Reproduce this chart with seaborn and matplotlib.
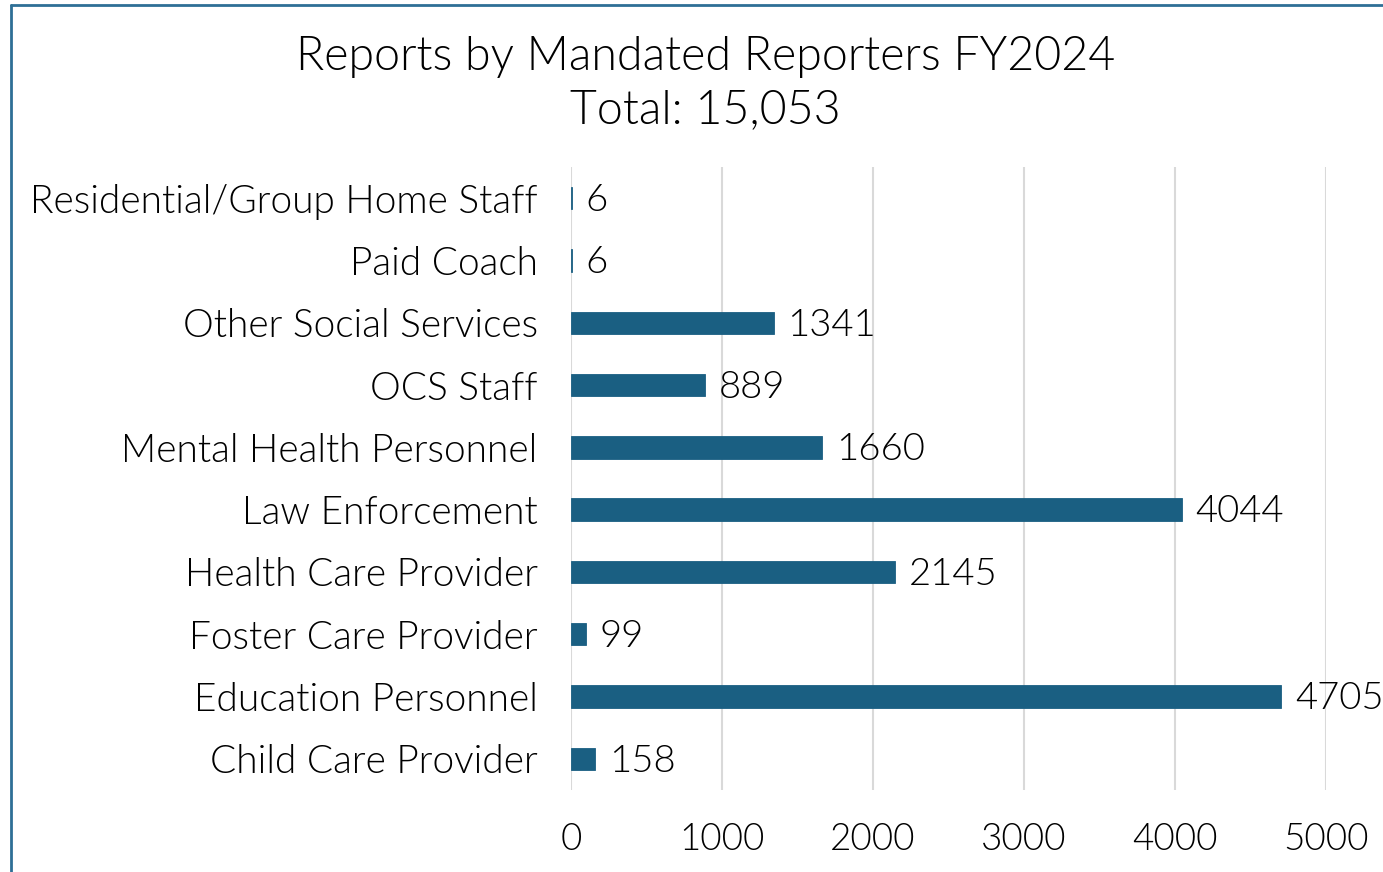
import matplotlib
matplotlib.use("Agg")
import matplotlib.pyplot as plt
from matplotlib.lines import Line2D
import pandas as pd
import seaborn as sns

categories = [
    "Residential/Group Home Staff",
    "Paid Coach",
    "Other Social Services",
    "OCS Staff",
    "Mental Health Personnel",
    "Law Enforcement",
    "Health Care Provider",
    "Foster Care Provider",
    "Education Personnel",
    "Child Care Provider",
]
reports = [6, 6, 1341, 889, 1660, 4044, 2145, 99, 4705, 158]
x_ticks = [0, 1000, 2000, 3000, 4000, 5000]

bar_color = "#1a5f82"
frame_color = "#2e6f96"

sns.set_style("white")
plt.rcParams["font.family"] = ["Lato", "DejaVu Sans"]
plt.rcParams["font.weight"] = 300
plt.rcParams["text.color"] = "black"
plt.rcParams["xtick.color"] = "black"
plt.rcParams["ytick.color"] = "black"

df = pd.DataFrame({"category": categories, "reports": reports})

fig = plt.figure(figsize=(13.83, 8.72), dpi=100)
ax = fig.add_axes([0.4129, 0.094, 0.5459, 0.7145])

sns.barplot(data=df, x="reports", y="category", order=categories,
            color=bar_color, width=0.36, saturation=1,
            edgecolor=bar_color, linewidth=0.6, ax=ax)

ax.set_xlim(0, 5000)
ax.set_xticks(x_ticks)
ax.xaxis.grid(True, color="#d9d9d9", linewidth=1.5)
ax.set_axisbelow(True)
for s in ax.spines.values():
    s.set_visible(False)
ax.tick_params(axis="x", length=0, pad=24, labelsize=26.5)
ax.tick_params(axis="y", length=0, pad=24, labelsize=28)
ax.set_xlabel("")
ax.set_ylabel("")

for c in ax.containers:
    labels = ax.bar_label(c, padding=10, fontsize=27.5, clip_on=False)
    for t in labels:
        t.xyann = (t.xyann[0], t.xyann[1] - 2)

fig.suptitle("Reports by Mandated Reporters FY2024\nTotal: 15,053",
             fontsize=33.5, fontweight=300, x=0.51, y=0.959, linespacing=1.33)

# chart frame (clipped at right/bottom in the reference)
fig.add_artist(Line2D([10.5 / 1383, 10.5 / 1383], [0, 1 - 5 / 872],
                      transform=fig.transFigure, color=frame_color, lw=2))
fig.add_artist(Line2D([10.5 / 1383, 1], [1 - 5 / 872, 1 - 5 / 872],
                      transform=fig.transFigure, color=frame_color, lw=2))

fig.savefig("out.png", dpi=100)
